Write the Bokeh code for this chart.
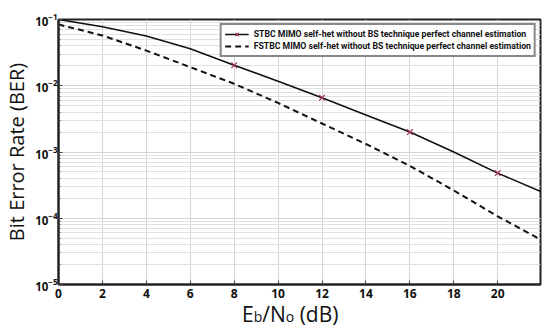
from bokeh.plotting import figure
from bokeh.models import Legend, LegendItem, FixedTicker, Div
from bokeh.layouts import column
from bokeh.embed import file_html
from bokeh.resources import INLINE

# Eb/No (dB)
snr = [0, 2, 4, 6, 8, 10, 12, 14, 16, 18, 20, 22]
# BER, STBC MIMO self-het (solid)
ber_stbc = [0.100, 0.0776, 0.0562, 0.0363, 0.0204, 0.0117, 0.0066, 0.00363, 0.00200, 0.00100, 0.00048, 0.000251]
# BER, FSTBC MIMO self-het (dashed)
ber_fstbc = [0.0840, 0.0575, 0.0339, 0.0191, 0.0107, 0.0055, 0.00269, 0.00132, 0.000617, 0.000263, 0.000107, 0.0000468]
# marker positions (subset of the solid series)
marker_snr = [8, 12, 16, 20]
marker_ber = [ber_stbc[snr.index(v)] for v in marker_snr]

x_ticks = [0, 2, 4, 6, 8, 10, 12, 14, 16, 18, 20]

p = figure(width=544, height=305, output_backend="svg", toolbar_location=None,
           y_axis_type="log", x_range=(0, 21.95), y_range=(1e-5, 1e-1),
           min_border_left=10, min_border_top=19, min_border_right=4, min_border_bottom=21)

p.background_fill_color = "white"
p.border_fill_color = "white"
p.outline_line_color = "#222222"
p.outline_line_width = 2

# grids
p.xgrid.grid_line_color = "#d4d4d4"
p.xgrid.grid_line_width = 1
p.ygrid.grid_line_color = "#d4d4d4"
p.ygrid.minor_grid_line_color = "#e0e0e0"

tick_font = "Open Sans"

p.xaxis.ticker = FixedTicker(ticks=x_ticks)
for ax in (p.xaxis[0], p.yaxis[0]):
    ax.major_label_text_font = tick_font
    ax.major_label_text_font_style = "bold"
    ax.major_label_text_font_size = "12px"
    ax.major_label_text_color = "#111111"
    ax.axis_line_color = "#222222"
    ax.axis_line_width = 2
    ax.major_tick_in = 4
    ax.major_tick_out = 0
    ax.minor_tick_in = 2
    ax.minor_tick_out = 0
    ax.major_tick_line_color = "#444444"
    ax.minor_tick_line_color = "#444444"
    ax.major_label_standoff = 4

p.yaxis.major_label_standoff = 1
p.yaxis.major_label_text_font_size = "11.5px"
p.xaxis.axis_label = None
p.yaxis.axis_label = "Bit Error Rate (BER)"
p.yaxis.axis_label_text_font = "Open Sans"
p.yaxis.axis_label_text_font_style = "normal"
p.yaxis.axis_label_text_font_size = "20px"
p.yaxis.axis_label_text_color = "#111111"
p.yaxis.axis_label_standoff = 2

r_solid = p.line(snr, ber_stbc, line_color="#111111", line_width=1.6)
r_mark = p.scatter(marker_snr, marker_ber, marker="x", size=8, line_color="#a8305e", line_width=1.2)
r_dash = p.line(snr, ber_fstbc, line_color="#111111", line_width=2, line_dash="6 4")

legend = Legend(items=[
    LegendItem(label="STBC MIMO self-het without BS technique perfect channel estimation", renderers=[r_solid, r_mark]),
    LegendItem(label="FSTBC MIMO self-het without BS technique perfect channel estimation", renderers=[r_dash]),
], location="top_right")
legend.label_text_font = "Roboto"
legend.label_text_font_style = "bold"
legend.label_text_font_size = "8.7px"
legend.label_text_color = "#111111"
legend.border_line_color = "#111111"
legend.border_line_width = 2
legend.padding = 3
legend.spacing = 0
legend.margin = 4
legend.glyph_width = 24
legend.glyph_height = 12
legend.label_height = 12
legend.label_standoff = 5
legend.background_fill_alpha = 1
p.add_layout(legend, "center")

# x axis title: E_b/N_o (dB), subscripts as smaller letters on the baseline
x_title = ('<div style="font-family:\'Open Sans\';font-size:21px;color:#111;line-height:18px;'
           'padding-left:242px;margin:0;white-space:nowrap">'
           'E<span style="font-size:14px">b</span>/N<span style="font-size:14px">o</span> (dB)</div>')
d = Div(text=x_title, width=544, height=24, margin=(0, 0, 0, 0))

layout = column(p, d, spacing=0)
open("out.html", "w").write(file_html(layout, INLINE))
